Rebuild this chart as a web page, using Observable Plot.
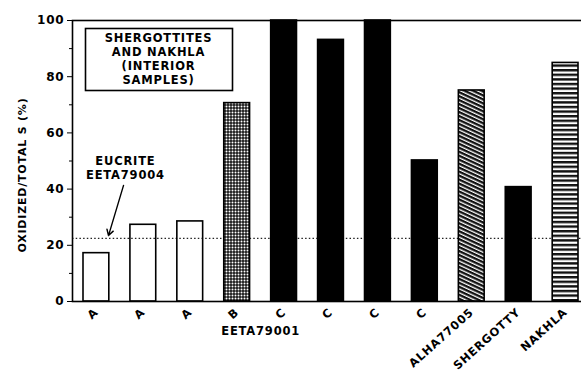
<!DOCTYPE html>
<html>
<head>
<meta charset="utf-8">
<script src="https://cdn.jsdelivr.net/npm/d3@7"></script>
<script src="https://cdn.jsdelivr.net/npm/@observablehq/plot@0.6"></script>
<style>
  html, body { margin: 0; padding: 0; background: #fff; }
  svg { display: block; }
</style>
</head>
<body>
<div id="chart"></div>
<script>
// ---- data ----
const labels = ["A", "A", "A", "B", "C", "C", "C", "C", "ALHA77005", "SHERGOTTY", "NAKHLA"];
const values = [17.2, 27.3, 28.5, 70.6, 100, 93.1, 100, 50.2, 75.1, 40.7, 84.9];
const groupLabel = "EETA79001";
const eucriteLevel = 22.5;
const eucriteLabel = "EUCRITE\nEETA79004";
const boxLabel = "SHERGOTTITES\nAND NAKHLA\n(INTERIOR\nSAMPLES)";
const yLabel = "OXIDIZED/TOTAL S (%)";
const yTicks = [0, 20, 40, 60, 80, 100];
const yMinorTicks = [10, 30, 50, 70, 90];

// ---- styling map (label -> fill) ----
const fillFor = {
  A: "none",
  B: "url(#dots)",
  C: "black",
  ALHA77005: "url(#diag)",
  SHERGOTTY: "black",
  NAKHLA: "url(#hstripes)"
};

const data = labels.map((label, i) => ({i, label, value: values[i]}));
const font = "DejaVu Sans";

const chart = Plot.plot({
  width: 581,
  height: 372,
  marginLeft: 72,
  marginRight: 0,
  marginTop: 20,
  marginBottom: 71,
  style: {fontFamily: font, fontSize: "12px", fontWeight: "bold", background: "white", color: "black", letterSpacing: "0.8px"},
  x: {type: "band", domain: d3.range(labels.length), range: [83, 578], paddingInner: 0.45, paddingOuter: 0, round: false},
  y: {domain: [0, 100]},
  color: {type: "identity"},
  marks: [
    Plot.ruleY([eucriteLevel], {stroke: "#222", strokeWidth: 1.3, strokeDasharray: "1.5,2.2"}),
    Plot.barY(data, {x: "i", y: "value", fill: d => fillFor[d.label], stroke: "black", strokeWidth: 1.6}),
    Plot.frame({stroke: "black", strokeWidth: 1.6, insetRight: -3}),
    Plot.axisY({ticks: yTicks, tickSize: 5, tickPadding: 3, label: null, fontSize: 12, fontWeight: "bold"}),
    Plot.axisY({ticks: yMinorTicks, tickSize: 3, tickFormat: () => "", label: null}),
    Plot.axisX({tickSize: 0, tickPadding: 9, tickRotate: -42, tickFormat: i => labels[i], label: null, fontSize: 11.5}),
    Plot.text([groupLabel], {x: 3, dx: 23.5, frameAnchor: "bottom", dy: 33, fontSize: 11.5, fontWeight: "bold"}),
    Plot.text([yLabel], {frameAnchor: "left", textAnchor: "middle", y: 45, rotate: -90, dx: -50, fontSize: 11, fontWeight: "bold"}),
    Plot.text([eucriteLabel], {x: 0, dx: 29, y: 47.7, lineHeight: 1.2, fontSize: 11.5, fontWeight: "bold"}),
    Plot.arrow([0], {x1: 1, y1: 64.8, x2: 0, y2: 9.1, insetStart: 68.9, insetEnd: 42.1, stroke: "black", strokeWidth: 1.4, headLength: 7}),
    Plot.frame({insetLeft: 13, insetTop: 8, insetRight: 349, insetBottom: 211, stroke: "black", strokeWidth: 1.6}),
    Plot.text([boxLabel], {frameAnchor: "top-left", dx: 86, dy: 12, lineAnchor: "top", lineHeight: 1.2, textAnchor: "middle", fontSize: 11.5, fontWeight: "bold"})
  ]
});

// pattern definitions used by the patterned bars
d3.select(chart).insert("defs", ":first-child").html(`
  <pattern id="dots" width="3" height="3" patternUnits="userSpaceOnUse">
    <rect width="3" height="3" fill="#1a1a1a"/>
    <circle cx="1.5" cy="1.5" r="1" fill="white"/>
  </pattern>
  <pattern id="diag" width="3.6" height="3.6" patternUnits="userSpaceOnUse" patternTransform="rotate(25)">
    <rect width="3.6" height="3.6" fill="white"/>
    <rect width="3.6" height="2.3" fill="#111"/>
  </pattern>
  <pattern id="hstripes" width="4.6" height="4.6" patternUnits="userSpaceOnUse">
    <rect width="4.6" height="4.6" fill="white"/>
    <rect width="4.6" height="2.4" fill="#111"/>
  </pattern>
`);

document.getElementById("chart").appendChild(chart);
</script>
</body>
</html>
